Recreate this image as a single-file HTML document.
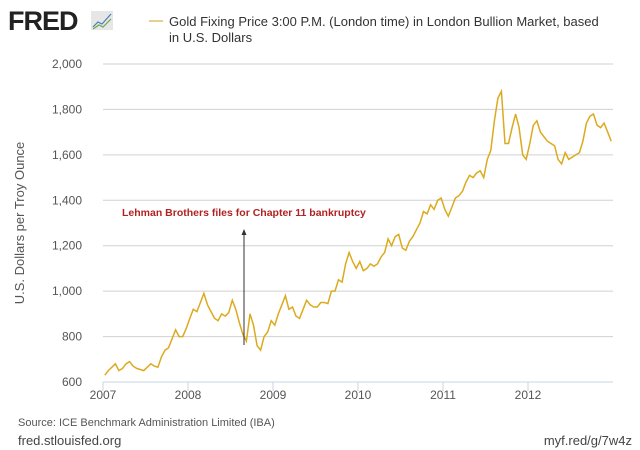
<!DOCTYPE html>
<html><head><meta charset="utf-8"><style>
body{margin:0;background:#fff;font-family:"Liberation Sans",sans-serif;}
#wrap{position:relative;width:640px;height:450px;overflow:hidden;}
</style></head><body>
<div id="wrap">
<svg id="svg" width="640" height="450" xmlns="http://www.w3.org/2000/svg">
  <g>
    <text x="8" y="30" font-size="27" font-weight="bold" fill="#222" font-family="Liberation Sans,sans-serif" letter-spacing="-1">FRED</text>
    <rect x="91" y="11" width="22" height="19" fill="#e6e6e6"/>
    <polyline points="93,27 98,22 102,24 111,14" fill="none" stroke="#4a7fb5" stroke-width="1.2"/>
    <polyline points="93,29 99,25 103,27 111,19" fill="none" stroke="#6aa84f" stroke-width="1.2"/>
  </g>
  <line x1="149" y1="21" x2="163" y2="21" stroke="#e8cf93" stroke-width="2"/>
  <text x="169" y="26" font-size="13" fill="#333">Gold Fixing Price 3:00 P.M. (London time) in London Bullion Market, based</text>
  <text x="169" y="42" font-size="13" fill="#333">in U.S. Dollars</text>
  <g id="grid"></g>
  <g id="axes"></g>
  <text transform="translate(24,223) rotate(-90)" text-anchor="middle" font-size="13" fill="#555">U.S. Dollars per Troy Ounce</text>
  <g id="series"></g>
  <text x="122" y="216" font-size="10.5" font-weight="bold" fill="#b22222">Lehman Brothers files for Chapter 11 bankruptcy</text>
  <line x1="244" y1="345" x2="244" y2="233" stroke="#333" stroke-width="1"/>
  <polygon points="244,229 241.5,235 246.5,235" fill="#333"/>
  <text x="18" y="426" font-size="11" fill="#555">Source: ICE Benchmark Administration Limited (IBA)</text>
  <text x="18" y="445" font-size="13" fill="#444">fred.stlouisfed.org</text>
  <text x="632" y="445" font-size="13" fill="#444" text-anchor="end">myf.red/g/7w4z</text>
</svg>
</div>
<script>
const yearLabels=["2007","2008","2009","2010","2011","2012"];
const yTicks=[600,800,1000,1200,1400,1600,1800,2000];
const prices2007=[630,650,665,680,650,660,680,690,670,660,655,650,665,680,670,665,710,740,750,790,830,800,800,835];
const prices2008=[880,920,910,950,990,940,910,880,870,900,890,905,960,920,860,810,780,900,850,760,740,800,820,870];
const prices2009=[850,900,940,980,920,930,890,880,920,960,940,930,930,950,950,945,1000,1000,1050,1040,1120,1170,1130,1100];
const prices2010=[1130,1090,1100,1120,1110,1120,1150,1170,1230,1200,1240,1250,1190,1180,1220,1240,1270,1300,1350,1340,1380,1360,1400,1410];
const prices2011=[1360,1330,1370,1410,1420,1440,1480,1510,1500,1520,1530,1500,1580,1620,1750,1850,1880,1650,1650,1720,1780,1720,1600,1580];
const prices2012=[1650,1730,1750,1700,1680,1660,1650,1640,1580,1560,1610,1580,1590,1600,1610,1660,1740,1770,1780,1730,1720,1740,1700,1660];
const prices=[].concat(prices2007,prices2008,prices2009,prices2010,prices2011,prices2012);
const X0=103,X1=613,Y0=382,Y1=64;
function xScale(i){return X0+(i+0.5)/prices.length*(X1-X0);}
function yScale(v){return Y0-(v-600)/1400*(Y0-Y1);}
function xYear(k){return X0+k*(X1-X0)/6;}
const NS="http://www.w3.org/2000/svg";
const grid=document.getElementById('grid'),axes=document.getElementById('axes'),series=document.getElementById('series');
yTicks.forEach(v=>{
  const y=yScale(v);
  if(v>600){const l=document.createElementNS(NS,'line');
  l.setAttribute('x1',X0);l.setAttribute('x2',X1);l.setAttribute('y1',y);l.setAttribute('y2',y);
  l.setAttribute('stroke','#d0d0d0');l.setAttribute('stroke-width','1');
  
  
  grid.appendChild(l);}
  const t=document.createElementNS(NS,'text');
  t.setAttribute('x',82);t.setAttribute('y',y+4);t.setAttribute('text-anchor','end');
  t.setAttribute('font-size','12');t.setAttribute('fill','#555');
  t.textContent=v.toLocaleString('en-US');
  
  
  axes.appendChild(t);
});
const ax=document.createElementNS(NS,'line');
ax.setAttribute('x1',X0);ax.setAttribute('x2',X1);ax.setAttribute('y1',Y0);ax.setAttribute('y2',Y0);
ax.setAttribute('stroke','#c8d4e6');


axes.appendChild(ax);
yearLabels.forEach((lab,k)=>{
  const x=xYear(k);
  const tk=document.createElementNS(NS,'line');
  tk.setAttribute('x1',x);tk.setAttribute('x2',x);tk.setAttribute('y1',Y0);tk.setAttribute('y2',Y0+9);
  tk.setAttribute('stroke','#c8d4e6');
  
  
  axes.appendChild(tk);
  const t=document.createElementNS(NS,'text');
  t.setAttribute('x',x);t.setAttribute('y',Y0+17);t.setAttribute('text-anchor','middle');
  t.setAttribute('font-size','12');t.setAttribute('fill','#555');
  t.textContent=lab;
  
  
  axes.appendChild(t);
});
const p=document.createElementNS(NS,'polyline');
p.setAttribute('points',prices.map((v,i)=>xScale(i).toFixed(1)+','+yScale(v).toFixed(1)).join(' '));
p.setAttribute('fill','none');p.setAttribute('stroke','#dcaa1e');p.setAttribute('stroke-width','1.5');


series.appendChild(p);
</script>
</body></html>
